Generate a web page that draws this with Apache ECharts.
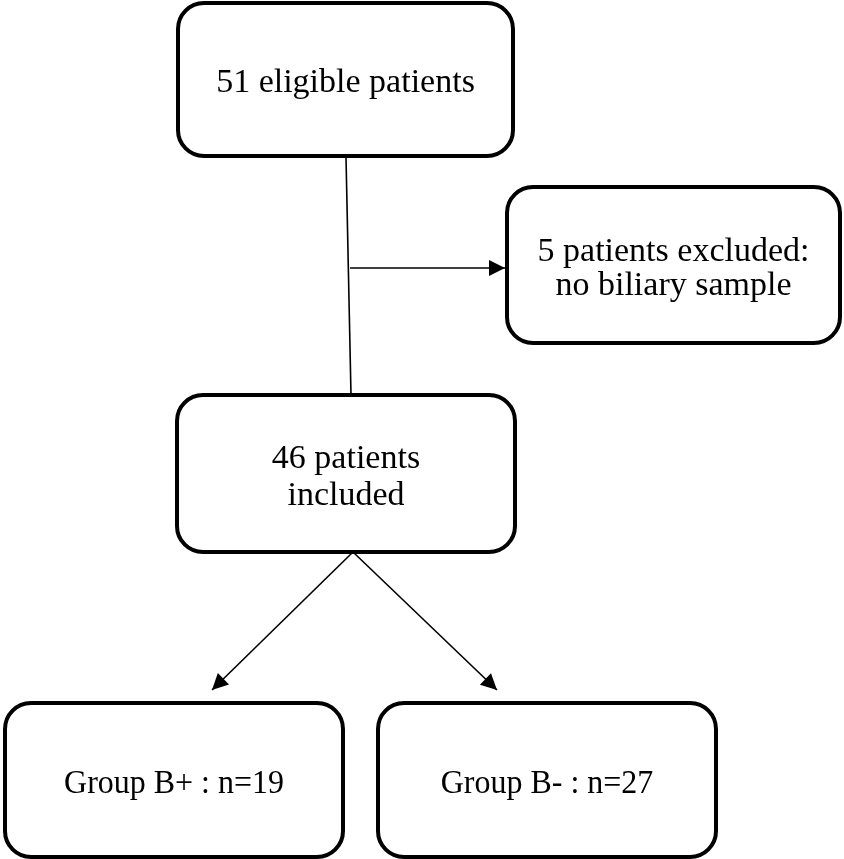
<!DOCTYPE html>
<html>
<head>
<meta charset="utf-8">
<script src="https://cdn.jsdelivr.net/npm/echarts@6/dist/echarts.min.js"></script>
<style>
  html, body { margin: 0; padding: 0; background: #fff; }
  #main { width: 844px; height: 859px; }
</style>
</head>
<body>
<div id="main"></div>
<script>
// flow boxes, in figure units (x to the right, y downwards)
var boxLabels = ['51 eligible patients', '5 patients excluded:\nno biliary sample', '46 patients\nincluded', 'Group B+ : n=19', 'Group B- : n=27'];
var boxLeft = [178, 507, 177, 5, 378];
var boxTop = [3, 187, 395, 703, 703];
var boxRight = [513, 840, 515, 343, 716];
var boxBottom = [156, 343, 552, 857, 857];

// connectors: start -> end, arrow head at the end or not
var linkFromX = [346, 350, 353, 353];
var linkFromY = [157, 268, 552, 552];
var linkToX = [351, 505, 212, 497];
var linkToY = [395, 268, 690, 690];
var linkHead = [0, 1, 1, 1];

var boxData = boxLabels.map(function (t, i) {
    return [boxLeft[i], boxTop[i], boxRight[i], boxBottom[i], i];
});
var linkData = linkHead.map(function (h, i) {
    return [linkFromX[i], linkFromY[i], linkToX[i], linkToY[i], h];
});

var myChart = echarts.init(document.getElementById('main'));

var option = {
    animation: false,
    grid: {left: 0, right: 0, top: 0, bottom: 0},
    xAxis: {type: 'value', min: 0, max: 844, show: false},
    yAxis: {type: 'value', min: 0, max: 859, inverse: true, show: false},
    series: [
        {
            type: 'custom',
            data: linkData,
            renderItem: function (params, api) {
                var a = api.coord([api.value(0), api.value(1)]);
                var b = api.coord([api.value(2), api.value(3)]);
                var children = [{
                    type: 'line',
                    shape: {x1: a[0], y1: a[1], x2: b[0], y2: b[1]},
                    style: {stroke: '#000', lineWidth: 1.6}
                }];
                if (api.value(4)) {
                    var dx = b[0] - a[0], dy = b[1] - a[1];
                    var len = Math.sqrt(dx * dx + dy * dy);
                    var ux = dx / len, uy = dy / len;
                    var hl = 16, hw = 8;
                    var bx = b[0] - ux * hl, by = b[1] - uy * hl;
                    children.push({
                        type: 'polygon',
                        shape: {points: [
                            [b[0], b[1]],
                            [bx - uy * hw, by + ux * hw],
                            [bx + uy * hw, by - ux * hw]
                        ]},
                        style: {fill: '#000'}
                    });
                }
                return {type: 'group', children: children};
            }
        },
        {
            type: 'custom',
            data: boxData,
            renderItem: function (params, api) {
                var p0 = api.coord([api.value(0), api.value(1)]);
                var p1 = api.coord([api.value(2), api.value(3)]);
                var idx = api.value(4);
                var cx = (p0[0] + p1[0]) / 2, cy = (p0[1] + p1[1]) / 2;
                return {
                    type: 'group',
                    children: [
                        {
                            type: 'rect',
                            shape: {x: p0[0], y: p0[1], width: p1[0] - p0[0], height: p1[1] - p0[1], r: 26},
                            style: {fill: '#fff', stroke: '#000', lineWidth: 4}
                        },
                        {
                            type: 'text',
                            x: cx,
                            y: cy + 4,
                            // the bottom boxes use a narrower face in the original
                            scaleX: idx >= 3 ? 0.94 : 1,
                            style: {
                                text: boxLabels[idx],
                                x: 0, y: 0,
                                align: 'center',
                                verticalAlign: 'middle',
                                font: '34px "Liberation Serif"',
                                lineHeight: idx === 2 ? 37 : 34,
                                fill: '#000'
                            }
                        }
                    ]
                };
            }
        }
    ]
};

myChart.setOption(option);
</script>
</body>
</html>
